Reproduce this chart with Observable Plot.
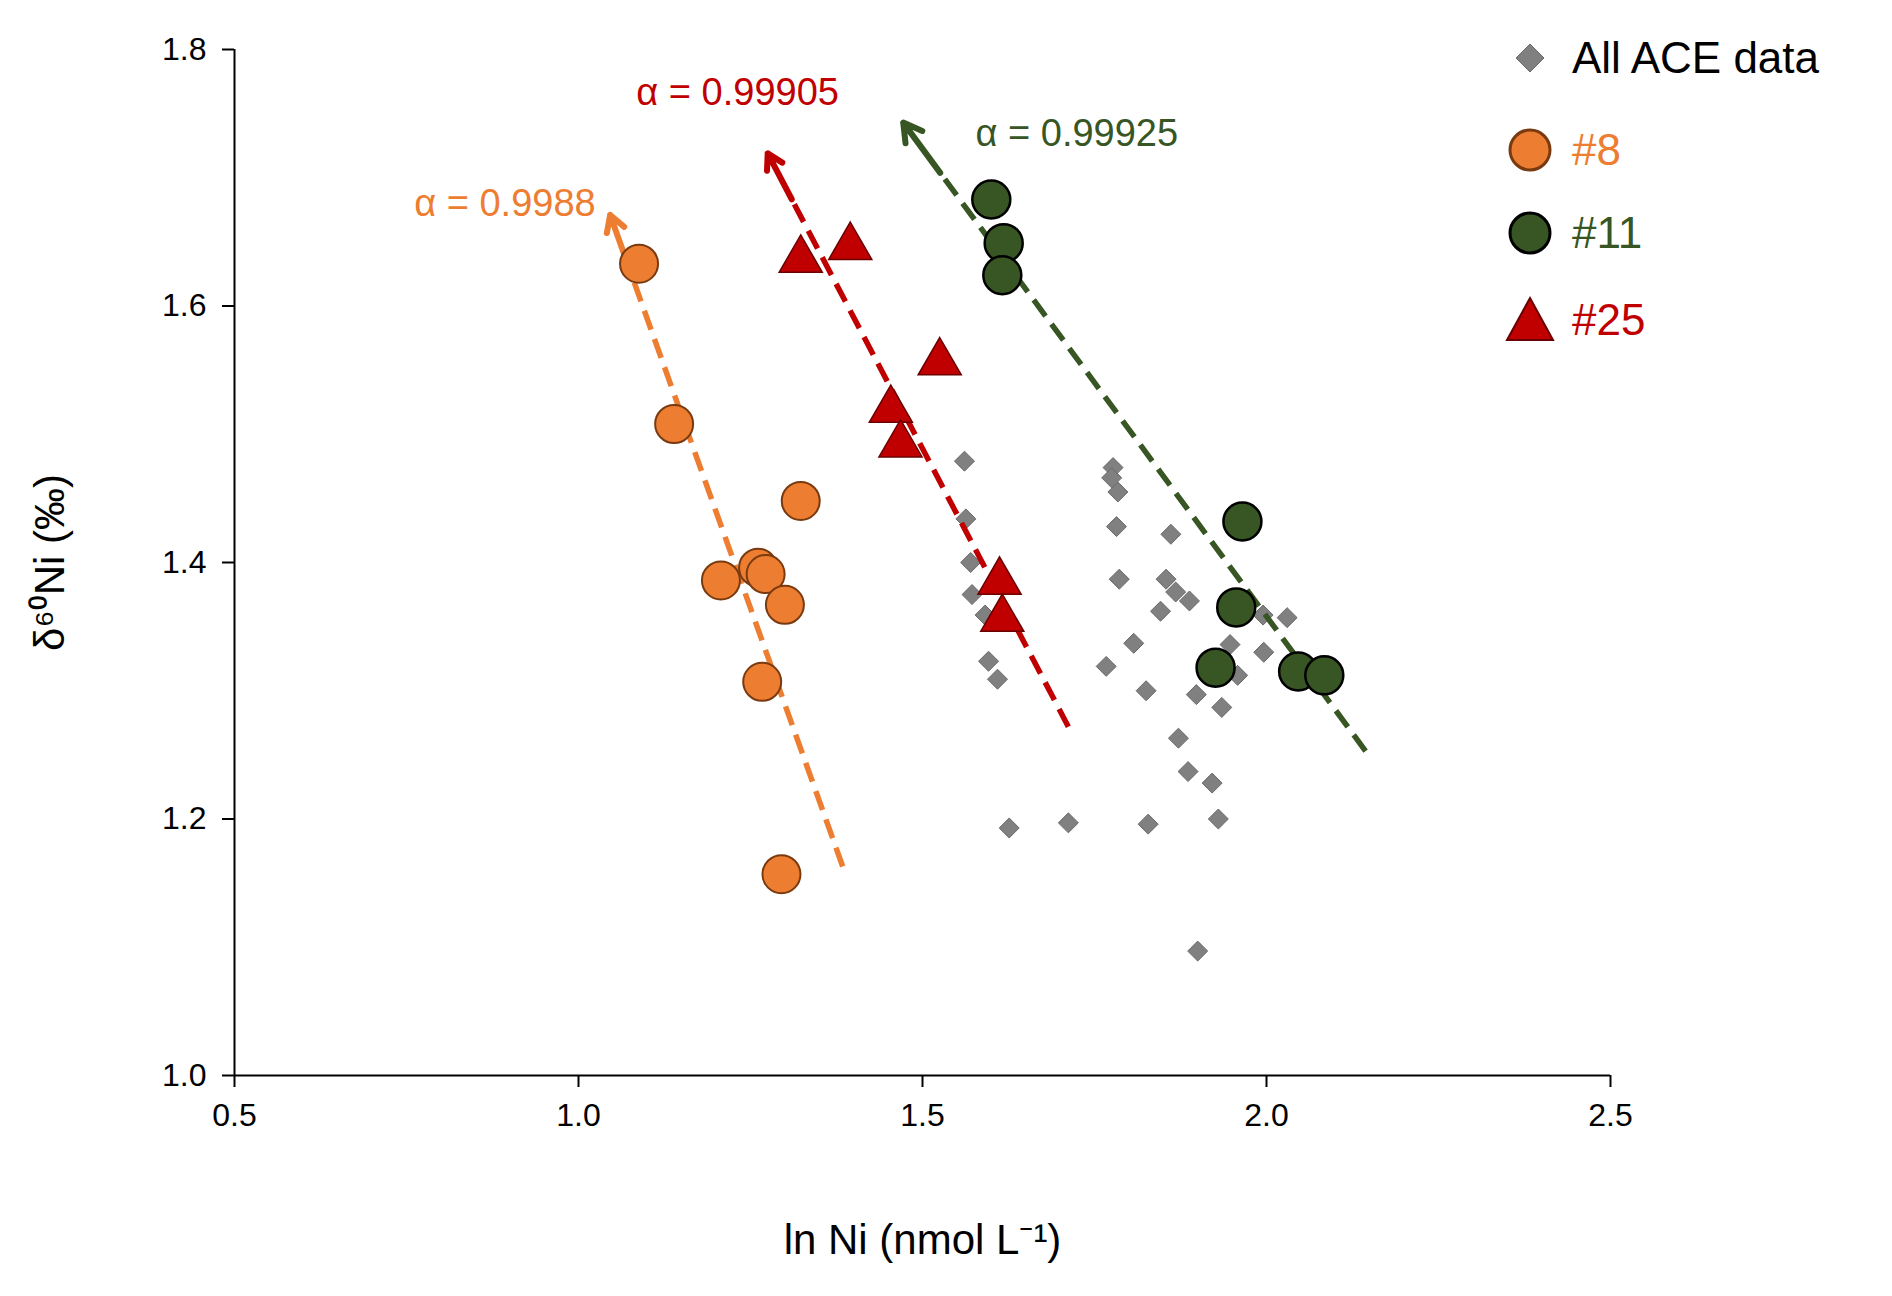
<!DOCTYPE html>
<html><head><meta charset="utf-8">
<script src="https://cdn.jsdelivr.net/npm/d3@7"></script>
<script src="https://cdn.jsdelivr.net/npm/@observablehq/plot@0.6"></script>
<style>
body{margin:0;background:#fff;font-family:Arial,"Liberation Sans",sans-serif;}
#wrap{position:relative;width:1892px;height:1296px;}
#legend{position:absolute;left:1500px;top:22px;font-size:44px;}
#legend .row{position:absolute;left:0;display:flex;align-items:center;white-space:nowrap;}
#legend svg{width:60px;height:60px;margin-right:12px;}
</style></head>
<body><div id="wrap"><div id="chart"></div><div id="legend"></div></div>
<script>
const aceX=[1.561,1.563,1.570,1.572,1.591,1.596,1.609,1.626,1.712,1.777,1.775,1.784,1.782,1.786,1.807,1.767,1.825,1.828,1.861,1.854,1.868,1.846,1.888,1.872,1.886,1.921,1.898,1.935,1.930,1.900,1.947,1.958,1.995,1.996,2.030];
const aceY=[1.479,1.434,1.400,1.375,1.359,1.323,1.309,1.193,1.197,1.474,1.466,1.455,1.428,1.387,1.337,1.319,1.300,1.196,1.422,1.387,1.377,1.362,1.370,1.263,1.237,1.228,1.297,1.287,1.200,1.097,1.336,1.312,1.359,1.330,1.357];
const s8X=[1.088,1.139,1.323,1.207,1.261,1.272,1.300,1.267,1.295];
const s8Y=[1.633,1.508,1.448,1.386,1.396,1.391,1.367,1.307,1.157];
const s11X=[1.600,1.618,1.616,1.965,1.956,1.926,2.046,2.084];
const s11Y=[1.683,1.649,1.624,1.432,1.365,1.318,1.315,1.312];
const s25X=[1.323,1.395,1.525,1.454,1.468,1.612,1.616];
const s25Y=[1.636,1.646,1.556,1.519,1.492,1.385,1.356];
// trend arrows: [start x, start y, tip x, tip y]
const trendNames=["#8","#25","#11"];
const trendStart=[[1.384,1.163],[1.712,1.272],[2.144,1.253]];
const trendTip=[[1.046,1.671],[1.275,1.719],[1.472,1.743]];
const trendColors=["#ED7D31","#C00000","#375623"];
const alphaLabels=["α = 0.9988","α = 0.99905","α = 0.99925"];
const alphaPos=[[1.025,1.680],[1.084,1.766],[1.577,1.734]];
const xTicks=[0.5,1.0,1.5,2.0,2.5];
const yTicks=[1.0,1.2,1.4,1.6,1.8];

const zip=(xs,ys)=>xs.map((x,i)=>({x,y:ys[i]}));
const trends=trendNames.map((n,i)=>{
  const [x1,y1]=trendStart[i],[x2,y2]=trendTip[i];
  const f=0.92;
  return {n,x1,y1,x2,y2,hx:x1+(x2-x1)*f,hy:y1+(y2-y1)*f,c:trendColors[i]};
});
const labels=alphaLabels.map((t,i)=>({t,x:alphaPos[i][0],y:alphaPos[i][1],c:trendColors[i]}));

const chart=Plot.plot({
  width:1892,height:1296,
  marginLeft:234,marginRight:282,marginTop:49,marginBottom:221,
  style:{fontFamily:"Arial, Liberation Sans, sans-serif",color:"#000",background:"#fff"},
  x:{domain:[0.5,2.5]},
  y:{domain:[1.0,1.8]},
  marks:[
    Plot.ruleX([0.5],{stroke:"#000",strokeWidth:2}),
    Plot.ruleY([1.0],{stroke:"#000",strokeWidth:2}),
    Plot.axisX({ticks:xTicks,tickFormat:d3.format(".1f"),tickSize:12,tickPadding:16,strokeWidth:2,label:"ln Ni (nmol L⁻¹)",labelAnchor:"center",labelArrow:"none",labelOffset:178}),
    Plot.axisY({ticks:yTicks,tickFormat:d3.format(".1f"),tickSize:12,tickPadding:16,strokeWidth:2,label:"δ⁶⁰Ni (‰)",labelAnchor:"center",labelArrow:"none",labelOffset:200}),
    Plot.dot(zip(aceX,aceY),{x:"x",y:"y",symbol:"diamond2",r:9,fill:"#808080",stroke:"#6a6a6a",strokeWidth:1}),
    Plot.link(trends,{x1:"x1",y1:"y1",x2:"hx",y2:"hy",stroke:"c",strokeWidth:5.5,strokeDasharray:"20,10"}),
    Plot.arrow(trends,{x1:"hx",y1:"hy",x2:"x2",y2:"y2",stroke:"c",strokeWidth:6,headLength:30,headAngle:60}),
    Plot.dot(zip(s8X,s8Y),{x:"x",y:"y",r:19,fill:"#ED7D31",stroke:"#7a3a10",strokeWidth:2}),
    Plot.dot(zip(s25X,s25Y),{x:"x",y:"y",symbol:"triangle",r:16,fill:"#C00000",stroke:"#6b0000",strokeWidth:1.5}),
    Plot.dot(zip(s11X,s11Y),{x:"x",y:"y",r:19,fill:"#375623",stroke:"#000",strokeWidth:2.5}),
    Plot.text(labels.slice(0,1),{x:"x",y:"y",text:"t",fill:"c",textAnchor:"end",fontSize:38}),
    Plot.text(labels.slice(1),{x:"x",y:"y",text:"t",fill:"c",textAnchor:"start",fontSize:38})
  ]
});
chart.querySelectorAll('[aria-label="x-axis tick label"], [aria-label="y-axis tick label"]').forEach(g=>{g.setAttribute("font-size","32");g.querySelectorAll("text").forEach(t=>t.setAttribute("font-size","32"));});
chart.querySelectorAll('[aria-label="x-axis label"], [aria-label="y-axis label"]').forEach(g=>{g.setAttribute("font-size","42");g.querySelectorAll("text").forEach(t=>t.setAttribute("font-size","42"));});
document.getElementById("chart").append(chart);

const legendItems=[
  {t:"All ACE data",c:"#000",sym:'<path d="M30,16 L44,30 L30,44 L16,30Z" fill="#808080" stroke="#6a6a6a"/>'},
  {t:"#8",c:"#ED7D31",sym:'<circle cx="30" cy="30" r="20" fill="#ED7D31" stroke="#7a3a10" stroke-width="3"/>'},
  {t:"#11",c:"#375623",sym:'<circle cx="30" cy="30" r="20" fill="#375623" stroke="#000" stroke-width="3"/>'},
  {t:"#25",c:"#C00000",sym:'<path d="M30,8 L53,50 L7,50Z" fill="#C00000" stroke="#6b0000" stroke-width="2"/>'}
];
const tops=[6,98,181,268];
const lg=document.getElementById("legend");
legendItems.forEach((d,i)=>{
  const r=document.createElement("div");r.className="row";r.style.top=tops[i]+"px";
  r.innerHTML=`<svg viewBox="0 0 60 60">${d.sym}</svg><span style="color:${d.c}">${d.t}</span>`;
  lg.append(r);
});
</script></body></html>
